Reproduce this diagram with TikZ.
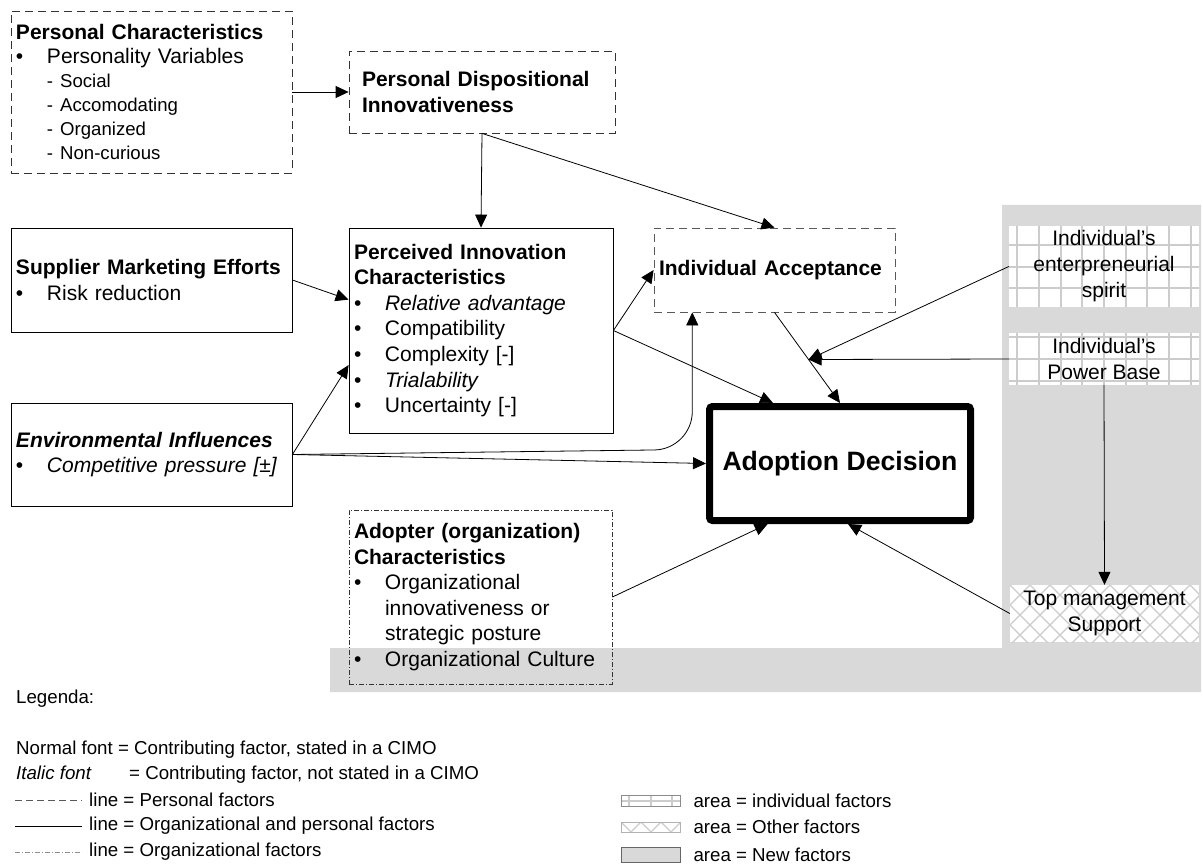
\documentclass[tikz,border=0pt]{standalone}
\usepackage{fontspec}
\setmainfont{Liberation Sans}
\usetikzlibrary{arrows.meta, positioning, calc}

\definecolor{newgray}{RGB}{217,217,217}
\definecolor{patgray}{RGB}{204,204,204}

\newcommand{\factor}[1]{\makebox[31pt][l]{\textbullet}#1}
\newcommand{\factorgap}{\hspace*{31pt}}
\newcommand{\subfactor}[1]{\hspace*{31pt}{\fontsize{18.6}{22}\selectfont - #1}}

\begin{document}
\begin{tikzpicture}[
        x=1pt, y=-1pt,
        box/.style={
            draw,
            line width=0.8pt,
            inner xsep=5pt,
            inner ysep=0pt,
            align=left,
            font=\fontsize{21}{25.6}\selectfont
        },
        personal/.style={
            box,
            draw=black!80,
            dash pattern=on 8pt off 5pt
        },
        organizational/.style={
            box,
            draw=black!80,
            dash pattern=on 5pt off 2pt on 1pt off 2pt
        },
        decision/.style={
            draw,
            line width=7pt,
            rounded corners=3pt,
            align=center,
            minimum width=261pt,
            minimum height=114pt,
            font=\bfseries\fontsize{26.6}{30}\selectfont
        },
        newfactor/.style={
            align=center,
            inner sep=0pt,
            font=\fontsize{21}{26}\selectfont
        },
        gridline/.style={patgray, line width=2pt},
        crossline/.style={patgray, line width=1.2pt},
        individual/.style={
            newfactor,
            fill=white,
            path picture={
                \foreach \k in {-5,...,5} {
                    \draw[gridline] ([xshift=\k*21.7pt]path picture bounding box.north)
                        -- ([xshift=\k*21.7pt]path picture bounding box.south);
                    \draw[gridline] ([yshift=\k*21.7pt]path picture bounding box.west)
                        -- ([yshift=\k*21.7pt]path picture bounding box.east);
                }
            }
        },
        other/.style={
            newfactor,
            fill=white,
            path picture={
                \foreach \k in {-5,...,14} {
                    \draw[crossline] ([xshift=\k*20pt]path picture bounding box.north west) -- ++(80pt,-80pt);
                    \draw[crossline] ([xshift=\k*20pt]path picture bounding box.north west) -- ++(-80pt,-80pt);
                }
            }
        },
        influence/.style={
            -{Triangle[length=13pt,width=12pt]},
            line width=0.8pt
        },
        legendtext/.style={
            anchor=west,
            inner sep=0pt,
            font=\fontsize{18.7}{22}\selectfont
        }
    ]

        \useasboundingbox (0,0) rectangle (1203,864);

        % ---------------------------------------------------------------------
        % New factors (grey area)
        % ---------------------------------------------------------------------

        \fill[newgray] (1002,205) -- (1201,205) -- (1201,692) -- (330,692)
            -- (330,648) -- (1002,648) -- cycle;

        % ---------------------------------------------------------------------
        % Factors
        % ---------------------------------------------------------------------

        \node[
            personal,
            text width=271pt,
            minimum height=162pt,
            font=\fontsize{21}{24}\selectfont
        ] (pc) at (151.5,92) {
            \textbf{Personal Characteristics}\\
            \factor{Personality Variables}\\
            \subfactor{Social}\\
            \subfactor{Accomodating}\\
            \subfactor{Organized}\\
            \subfactor{Non-curious}
        };

        \node[
            personal,
            inner xsep=13pt,
            text width=240pt,
            minimum height=82pt,
            font=\bfseries\fontsize{21}{26}\selectfont
        ] (pdi) at (482,92) {
            Personal Dispositional\\
            Innovativeness
        };

        \node[
            box,
            text width=271pt,
            minimum height=104pt
        ] (sup) at (151.5,280) {
            \textbf{Supplier Marketing Efforts}\\
            \factor{Risk reduction}
        };

        \node[
            box,
            text width=271pt,
            minimum height=103pt
        ] (ei) at (151.5,454.5) {
            \textbf{\textit{Environmental Influences}}\\
            \factor{\textit{Competitive pressure [±]}}
        };

        \node[
            box,
            text width=254pt,
            minimum height=205pt
        ] (pic) at (481,330.5) {
            \textbf{Perceived Innovation}\\
            \textbf{Characteristics}\\
            \factor{\textit{Relative advantage}}\\
            \factor{Compatibility}\\
            \factor{Complexity [-]}\\
            \factor{\textit{Trialability}}\\
            \factor{Uncertainty [-]}
        };

        \node[
            personal,
            draw=black!65,
            text width=231pt,
            minimum height=84pt
        ] (ia) at (774.5,270) {
            \textbf{Individual Acceptance}
        };

        \node[decision] (ad) at (840,463.5) {Adoption Decision};

        \node[
            organizational,
            text width=253pt,
            minimum height=174pt
        ] (adp) at (480.5,597) {
            \textbf{Adopter (organization)}\\
            \textbf{Characteristics}\\
            \factor{Organizational}\\
            \factorgap innovativeness or\\
            \factorgap strategic posture\\
            \factor{Organizational Culture}
        };

        \node[
            individual,
            minimum width=190pt,
            minimum height=81pt
        ] (ent) at (1104,266.5) {
            Individual’s\\
            enterpreneurial\\
            spirit
        };

        \node[
            individual,
            minimum width=190pt,
            minimum height=52pt
        ] (pb) at (1104,359) {
            Individual’s\\
            Power Base
        };

        \node[
            other,
            minimum width=189pt,
            minimum height=57pt
        ] (tm) at (1104.5,613.5) {
            Top management\\
            Support
        };

        % ---------------------------------------------------------------------
        % Influences
        % ---------------------------------------------------------------------

        \coordinate (picSup) at ($(pic.north west)!0.35!(pic.south west)$);
        \coordinate (picEi) at ($(pic.north west)!0.668!(pic.south west)$);
        \coordinate (iaIn) at ($(ia.south west)!0.16!(ia.south east)$);
        \coordinate (adPic) at ($(ad.north west)!0.25!(ad.north east)$);
        \coordinate (adAdp) at ($(ad.south west)!0.23!(ad.south east)$);
        \coordinate (adTm) at ($(ad.south west)!0.53!(ad.south east)$);
        \coordinate (mod) at ($(ia.south)!0.52!(ad.north)$);

        \draw[influence] (pc.east) -- (pdi.west);
        \draw[influence] (pdi.south) -- (pic.north);
        \draw[influence] (pdi.south) -- (ia.north);

        \draw[influence] (sup.east) -- (picSup);
        \draw[influence] (ei.east) -- (picEi);
        \draw[influence] (ei.east) -- (ad.west);
        \draw[influence, rounded corners=38pt]
            (ei.east) -- ($(iaIn |- ei.east)+(0,-5)$) -- (iaIn);

        \draw[influence] (pic.east) -- (ia.west);
        \draw[influence] (pic.east) -- (adPic);
        \draw[influence] (ia.south) -- (ad.north);

        \draw[influence] (ent.west) -- (mod);
        \draw[influence] (pb.west) -- (mod);
        \draw[influence] (pb.south) -- (tm.north);

        \draw[influence] (adp.east) -- (adAdp);
        \draw[influence] (tm.west) -- (adTm);

        % ---------------------------------------------------------------------
        % Legend
        % ---------------------------------------------------------------------

        \node[legendtext] (lgTitle) at (16,699) {Legenda:};
        \node[legendtext] (lgNormal) at (16,750) {Normal font = Contributing factor, stated in a CIMO};
        \node[legendtext] (lgItalic) at (16,775) {\makebox[113pt][l]{\textit{Italic font}}= Contributing factor, not stated in a CIMO};
        \node[legendtext] (lgPers) at (89,800) {line = Personal factors};
        \node[legendtext] (lgBoth) at (89,826) {line = Organizational and personal factors};
        \node[legendtext] (lgOrg) at (89,852) {line = Organizational factors};

        \draw[black!65, line width=0.8pt, dash pattern=on 7pt off 4pt]
            ($(lgPers.west)+(-74,0)$) -- ($(lgPers.west)+(-7,0)$);
        \draw[line width=0.8pt]
            ($(lgBoth.west)+(-74,0)$) -- ($(lgBoth.west)+(-7,0)$);
        \draw[black!45, line width=0.8pt, dash pattern=on 5pt off 2pt on 1pt off 2pt]
            ($(lgOrg.west)+(-74,0)$) -- ($(lgOrg.west)+(-7,0)$);

        \node[individual, draw=black!45, line width=0.6pt, minimum width=59pt, minimum height=11pt] (smpInd) at (650.5,800.5) {};
        \node[legendtext, right=13pt of smpInd] (lgInd) {area = individual factors};

        \node[other, draw=black!30, line width=0.6pt, minimum width=59pt, minimum height=10pt] (smpOth) at (650.5,827) {};
        \node[legendtext, right=13pt of smpOth] (lgOth) {area = Other factors};

        \node[draw=black!60, fill=newgray, line width=0.6pt, minimum width=59pt, minimum height=15pt, inner sep=0pt] (smpNew) at (650.5,854.5) {};
        \node[legendtext, right=13pt of smpNew] (lgNew) {area = New factors};

    \end{tikzpicture}
\end{document}
